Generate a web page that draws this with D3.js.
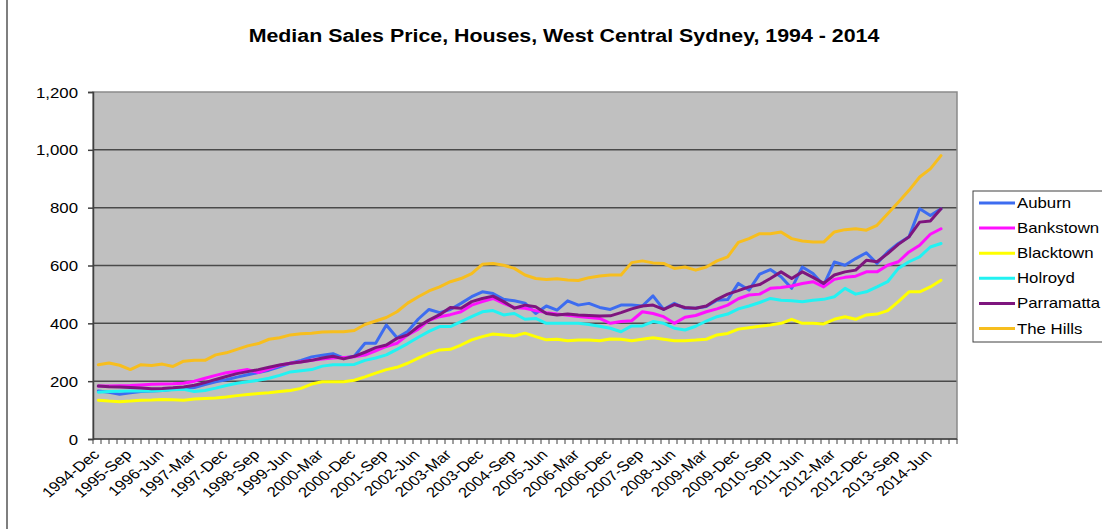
<!DOCTYPE html>
<html><head><meta charset="utf-8">
<script src="https://cdn.jsdelivr.net/npm/d3@7"></script>
<style>
body{margin:0;background:#fff}
svg{display:block}
text{font-family:"Liberation Sans",Arial,sans-serif;fill:#000}
</style>
</head><body>
<svg id="c" width="1102" height="529"></svg>
<script>
const categories = [
"1994-Dec",
"1995-Mar","1995-Jun","1995-Sep","1995-Dec","1996-Mar","1996-Jun","1996-Sep","1996-Dec",
"1997-Mar","1997-Jun","1997-Sep","1997-Dec","1998-Mar","1998-Jun","1998-Sep","1998-Dec",
"1999-Mar","1999-Jun","1999-Sep","1999-Dec","2000-Mar","2000-Jun","2000-Sep","2000-Dec",
"2001-Mar","2001-Jun","2001-Sep","2001-Dec","2002-Mar","2002-Jun","2002-Sep","2002-Dec",
"2003-Mar","2003-Jun","2003-Sep","2003-Dec","2004-Mar","2004-Jun","2004-Sep","2004-Dec",
"2005-Mar","2005-Jun","2005-Sep","2005-Dec","2006-Mar","2006-Jun","2006-Sep","2006-Dec",
"2007-Mar","2007-Jun","2007-Sep","2007-Dec","2008-Mar","2008-Jun","2008-Sep","2008-Dec",
"2009-Mar","2009-Jun","2009-Sep","2009-Dec","2010-Mar","2010-Jun","2010-Sep","2010-Dec",
"2011-Mar","2011-Jun","2011-Sep","2011-Dec","2012-Mar","2012-Jun","2012-Sep","2012-Dec",
"2013-Mar","2013-Jun","2013-Sep","2013-Dec","2014-Mar","2014-Jun","2014-Sep","2014-Dec"
];
const tickLabels = ["1994-Dec","1995-Sep","1996-Jun","1997-Mar","1997-Dec","1998-Sep","1999-Jun",
"2000-Mar","2000-Dec","2001-Sep","2002-Jun","2003-Mar","2003-Dec","2004-Sep","2005-Jun","2006-Mar",
"2006-Dec","2007-Sep","2008-Jun","2009-Mar","2009-Dec","2010-Sep","2011-Jun","2012-Mar","2012-Dec",
"2013-Sep","2014-Jun"];
const yTickValues = [0,200,400,600,800,1000,1200];
const seriesNames = ["Auburn","Bankstown","Blacktown","Holroyd","Parramatta","The Hills"];
const seriesColors = ["#3d6cf0","#ff10ff","#ffff00","#22f2f2","#7e157e","#f7be1e"];

const auburn = [
166,162,155,160,164,166,168,172,176,178,
188,198,205,214,222,230,238,250,262,272,
284,290,295,280,286,331,331,394,350,372,
415,448,437,448,469,492,509,503,483,478,
470,434,460,446,478,463,469,455,448,463,
463,460,495,448,469,452,452,458,480,482,
538,515,570,586,561,521,595,572,532,612,
601,624,644,607,647,676,699,796,773,796];
const bankstown = [
183,183,184,185,187,189,190,191,193,200,
210,220,229,234,240,230,243,255,262,267,
272,277,280,282,284,290,305,320,331,360,
380,410,423,430,440,463,475,486,469,455,
452,444,437,432,428,424,420,417,400,406,
409,440,434,423,400,421,427,440,450,463,
485,498,501,521,524,529,538,544,526,552,
559,563,578,578,601,613,647,670,708,727];
const blacktown = [
134,131,129,131,134,135,137,136,134,138,
140,142,145,150,154,157,160,164,168,175,
190,198,198,198,203,215,228,240,248,262,
280,296,308,310,325,343,354,363,360,356,
366,354,343,345,340,342,342,340,346,345,
340,345,350,345,340,340,342,345,360,365,
380,385,390,394,400,414,400,400,398,414,
423,414,429,432,444,475,509,509,526,549];
const holroyd = [
162,164,165,166,166,166,168,170,172,164,
168,176,185,193,198,203,210,220,232,236,
240,252,257,257,258,272,280,291,310,330,
352,372,389,389,406,423,440,444,429,434,
414,417,400,400,400,400,396,390,383,371,
391,391,406,400,383,377,390,408,423,432,
450,460,472,486,480,478,475,480,483,492,
521,501,509,526,544,590,613,630,664,676];
const parramatta = [
183,181,180,178,176,174,175,177,180,186,
195,206,216,226,233,240,248,256,262,266,
272,280,286,277,286,300,316,325,348,360,
389,411,430,455,452,475,486,494,475,452,
463,457,434,429,432,429,427,425,426,437,
450,460,463,448,465,455,452,460,483,501,
513,526,534,555,578,555,578,559,538,567,
578,584,618,613,641,673,699,750,754,796];
const theHills = [
257,263,255,240,257,254,259,251,269,272,
272,291,298,310,322,330,345,350,360,364,
366,370,371,371,375,396,408,420,440,470,
492,512,526,544,555,572,604,607,601,590,
567,555,552,554,550,548,558,564,567,567,
610,616,609,607,590,595,584,595,616,630,
680,693,710,710,716,693,685,681,681,716,
724,727,722,739,779,819,860,906,934,980];
const minorTickCount = 108;

const seriesValues = [auburn, bankstown, blacktown, holroyd, parramatta, theHills];
const series = seriesNames.map((n,k)=>({name:n, color:seriesColors[k], values:seriesValues[k]}));

const SX = 1.2; // horizontal text stretch seen in the reference
const plot = {left:93, right:957, top:92, bottom:439};
const svg = d3.select("#c");

svg.append("rect").attr("width",1102).attr("height",529).attr("fill","#fff");
svg.append("line").attr("x1",7).attr("x2",7).attr("y1",0).attr("y2",529)
  .attr("stroke","#555").attr("stroke-width",1.5);

const x = d3.scaleBand().domain(categories).range([plot.left, plot.right]).padding(0);
const y = d3.scaleLinear().domain([0,1200]).range([plot.bottom, plot.top]);

// title
svg.append("text")
  .attr("transform",`translate(564,42) scale(${SX},1)`)
  .attr("text-anchor","middle").attr("font-weight","bold").attr("font-size",17.8)
  .text("Median Sales Price, Houses, West Central Sydney, 1994 - 2014");

// plot background
svg.append("rect").attr("x",plot.left).attr("y",plot.top)
  .attr("width",plot.right-plot.left).attr("height",plot.bottom-plot.top).attr("fill","#c0c0c0");

// gridlines
svg.append("g").selectAll("line").data(yTickValues.filter(v=>v>0 && v<1200)).join("line")
  .attr("x1",plot.left).attr("x2",plot.right).attr("y1",d=>y(d)).attr("y2",d=>y(d))
  .attr("stroke","#4a4a4a").attr("stroke-width",1.5);

// plot border
svg.append("rect").attr("x",plot.left).attr("y",plot.top)
  .attr("width",plot.right-plot.left).attr("height",plot.bottom-plot.top)
  .attr("fill","none").attr("stroke","#8a8a8a").attr("stroke-width",1.5);

// y axis
const gy = svg.append("g").attr("transform",`translate(${plot.left},0)`)
  .call(d3.axisLeft(y).tickValues(yTickValues).tickFormat(d3.format(",")).tickSize(5));
gy.attr("font-size",14).attr("font-family","'Liberation Sans',Arial,sans-serif");
gy.select(".domain").attr("stroke","#404040").attr("stroke-width",1.5);
gy.selectAll(".tick line").attr("stroke","#404040").attr("stroke-width",1.5);
gy.selectAll(".tick text").attr("x",null).attr("fill","#000")
  .attr("transform",`translate(-15,0) scale(${SX},1)`).attr("text-anchor","end").attr("dy","0.36em");

// x axis labels
const gx = svg.append("g").attr("transform",`translate(0,${plot.bottom})`)
  .call(d3.axisBottom(x).tickValues(tickLabels).tickSize(0).tickPadding(0));
gx.attr("font-size",14).attr("font-family","'Liberation Sans',Arial,sans-serif");
gx.select(".domain").remove();
gx.selectAll(".tick text").attr("y",null).attr("fill","#000")
  .attr("text-anchor","end").attr("dy","0.35em")
  .attr("transform",`translate(-2,13) scale(${SX},1) rotate(-45)`);

// x axis line + minor ticks
svg.append("line").attr("x1",plot.left).attr("x2",plot.right).attr("y1",plot.bottom).attr("y2",plot.bottom)
  .attr("stroke","#404040").attr("stroke-width",1.5);
const xt = d3.scaleLinear().domain([0,minorTickCount]).range([plot.left, plot.right]);
svg.append("g").selectAll("line").data(d3.range(minorTickCount+1)).join("line")
  .attr("x1",d=>xt(d)).attr("x2",d=>xt(d)).attr("y1",plot.bottom).attr("y2",plot.bottom+5)
  .attr("stroke","#404040").attr("stroke-width",1);

// series lines
const line = d3.line()
  .x((d,i)=>x(categories[i]) + x.bandwidth()/2)
  .y(d=>y(d));
svg.append("g").selectAll("path").data(series).join("path")
  .attr("d",s=>line(s.values)).attr("fill","none")
  .attr("stroke",s=>s.color).attr("stroke-width",3)
  .attr("stroke-linejoin","round").attr("stroke-linecap","round");

// legend
const lg = svg.append("g");
lg.append("rect").attr("x",973).attr("y",191).attr("width",140).attr("height",151)
  .attr("fill","#fff").attr("stroke","#404040").attr("stroke-width",1);
const item = lg.selectAll("g.item").data(series).join("g").attr("class","item")
  .attr("transform",(d,i)=>`translate(0,${203 + i*25.1})`);
item.append("line").attr("x1",979).attr("x2",1015).attr("y1",0).attr("y2",0)
  .attr("stroke",d=>d.color).attr("stroke-width",3);
item.append("text").attr("transform",`translate(1017,0) scale(${SX},1)`)
  .attr("dy","0.36em").attr("font-size",14).text(d=>d.name);
</script>
</body></html>
